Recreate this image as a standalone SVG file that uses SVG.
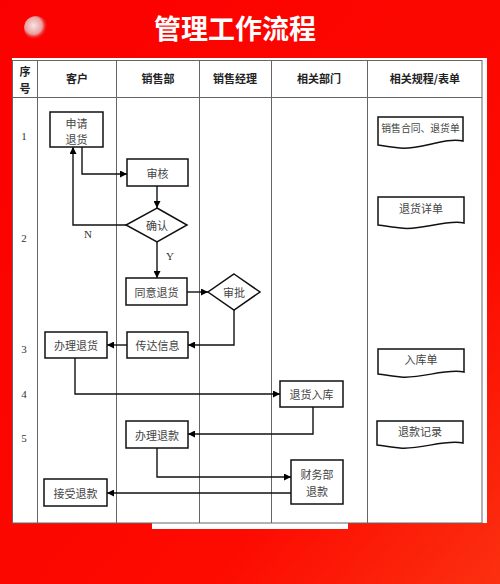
<svg xmlns="http://www.w3.org/2000/svg" width="500" height="584" viewBox="0 0 500 584">
<defs>
<linearGradient id="bg" x1="0" y1="0" x2="1" y2="1">
<stop offset="0" stop-color="#fb0000"/>
<stop offset="0.7" stop-color="#fd0a00"/>
<stop offset="1" stop-color="#fb3010"/>
</linearGradient>
<radialGradient id="logo" cx="0.4" cy="0.4" r="0.6">
<stop offset="0" stop-color="#fbe3e3"/>
<stop offset="0.6" stop-color="#e8a0a0"/>
<stop offset="1" stop-color="#f30000" stop-opacity="0"/>
</radialGradient>
<marker id="ar" viewBox="0 0 10 10" refX="10" refY="5" markerWidth="7" markerHeight="7" markerUnits="userSpaceOnUse" orient="auto">
<path d="M0,0 L10,5 L0,10 Z" fill="#000"/>
</marker>
<style>
.grid{stroke:#666;stroke-width:1;fill:none}
.box{fill:#fff;stroke:#111;stroke-width:1.5}
.t{font-family:"Noto Sans CJK SC","Liberation Sans",sans-serif;font-size:11px;fill:#444;text-anchor:middle;dominant-baseline:central}
.s{font-size:9.8px}
.h{font-family:"Noto Sans CJK SC","Liberation Serif",serif;font-size:11px;font-weight:bold;fill:#222;text-anchor:middle;dominant-baseline:central}
.n{font-family:"Liberation Serif",serif;font-size:11px;fill:#333;text-anchor:middle;dominant-baseline:central}
.c{fill:none;stroke:#111;stroke-width:1.4}
</style>
</defs>
<rect width="500" height="584" fill="url(#bg)"/>
<circle cx="36" cy="28" r="12" fill="url(#logo)"/>
<text x="235" y="27" font-family="Noto Sans CJK SC, sans-serif" font-size="27" font-weight="bold" fill="#fff" text-anchor="middle" dominant-baseline="central">管理工作流程</text>
<rect x="12" y="58" width="475" height="465" fill="#fff"/>
<rect x="152" y="522" width="196" height="7" fill="#fff"/>
<g id="table">
<rect class="grid" x="12.5" y="60.5" width="469.5" height="462.5"/>
<line class="grid" x1="12" y1="97.5" x2="482" y2="97.5"/>
<line class="grid" x1="37.5" y1="60" x2="37.5" y2="523"/>
<line class="grid" x1="116.5" y1="60" x2="116.5" y2="523"/>
<line class="grid" x1="199.5" y1="60" x2="199.5" y2="523"/>
<line class="grid" x1="271.5" y1="60" x2="271.5" y2="523"/>
<line class="grid" x1="367.5" y1="60" x2="367.5" y2="523"/>
<text class="h" x="25" y="71">序</text>
<text class="h" x="25" y="88">号</text>
<text class="h" x="77" y="78">客户</text>
<text class="h" x="158" y="78">销售部</text>
<text class="h" x="235" y="78">销售经理</text>
<text class="h" x="319" y="78">相关部门</text>
<text class="h" x="425" y="78">相关规程/表单</text>
<text class="n" x="24" y="136">1</text>
<text class="n" x="24" y="238">2</text>
<text class="n" x="24" y="349">3</text>
<text class="n" x="24" y="394">4</text>
<text class="n" x="24" y="438">5</text>
</g>
<g id="connectors">
<polyline class="c" points="82,147 82,174 127,174" marker-end="url(#ar)"/>
<line class="c" x1="157" y1="186" x2="157" y2="208" marker-end="url(#ar)"/>
<polyline class="c" points="126,225 73,225 73,147" marker-end="url(#ar)"/>
<line class="c" x1="157" y1="242" x2="157" y2="278" marker-end="url(#ar)"/>
<line class="c" x1="187" y1="292" x2="208" y2="292" marker-end="url(#ar)"/>
<polyline class="c" points="234,310 234,345 188,345" marker-end="url(#ar)"/>
<line class="c" x1="127" y1="345" x2="107" y2="345" marker-end="url(#ar)"/>
<polyline class="c" points="75,358 75,394 280,394" marker-end="url(#ar)"/>
<polyline class="c" points="313,407 313,434 188,434" marker-end="url(#ar)"/>
<polyline class="c" points="157,448 157,477 291,477" marker-end="url(#ar)"/>
<line class="c" x1="291" y1="493" x2="107" y2="493" marker-end="url(#ar)"/>
<text class="n" x="88" y="234">N</text>
<text class="n" x="170" y="256">Y</text>
</g>
<g id="n1"><rect class="box" x="50" y="112" width="53" height="35"/><text class="t" x="76.5" y="123">申请</text><text class="t" x="76.5" y="139">退货</text></g>
<g id="n2"><rect class="box" x="127" y="159" width="61" height="27"/><text class="t" x="157.5" y="172.5">审核</text></g>
<g id="n3"><path class="box" d="M157,208 L187,225 L157,242 L126,225 Z"/><text class="t" x="157" y="225">确认</text></g>
<g id="n4"><rect class="box" x="126" y="278" width="61" height="27"/><text class="t" x="156.5" y="291.5">同意退货</text></g>
<g id="n5"><path class="box" d="M234,274 L260,292 L234,310 L208,292 Z"/><text class="t" x="234" y="292">审批</text></g>
<g id="n6"><rect class="box" x="127" y="332" width="61" height="26"/><text class="t" x="157.5" y="345">传达信息</text></g>
<g id="n7"><rect class="box" x="45" y="332" width="62" height="26"/><text class="t" x="76" y="345">办理退货</text></g>
<g id="n8"><rect class="box" x="280" y="381" width="63" height="26"/><text class="t" x="311.5" y="394">退货入库</text></g>
<g id="n9"><rect class="box" x="126" y="421" width="62" height="27"/><text class="t" x="157" y="434.5">办理退款</text></g>
<g id="n10"><rect class="box" x="291" y="460" width="52" height="44"/><text class="t" x="317" y="474">财务部</text><text class="t" x="317" y="491">退款</text></g>
<g id="n11"><rect class="box" x="44" y="479" width="63" height="27"/><text class="t" x="75.5" y="492.5">接受退款</text></g>
<g id="d1"><path class="box" d="M378,117 H463 V141 C445,137 420,150 400,148 C390,147 384,146 378,145 Z"/><text class="t s" x="420.5" y="128">销售合同、退货单</text></g>
<g id="d2"><path class="box" d="M378,197 H464 V223 C446,219 421,231 401,228 C391,227 385,226 378,225 Z"/><text class="t" x="421" y="208">退货详单</text></g>
<g id="d3"><path class="box" d="M378,349 H464 V372 C446,368 421,379 401,377 C391,376 385,375 378,374 Z"/><text class="t" x="421" y="359">入库单</text></g>
<g id="d4"><path class="box" d="M377,421 H463 V443 C445,439 420,450 400,448 C390,447 384,446 377,445 Z"/><text class="t" x="420" y="431">退款记录</text></g>
</svg>
